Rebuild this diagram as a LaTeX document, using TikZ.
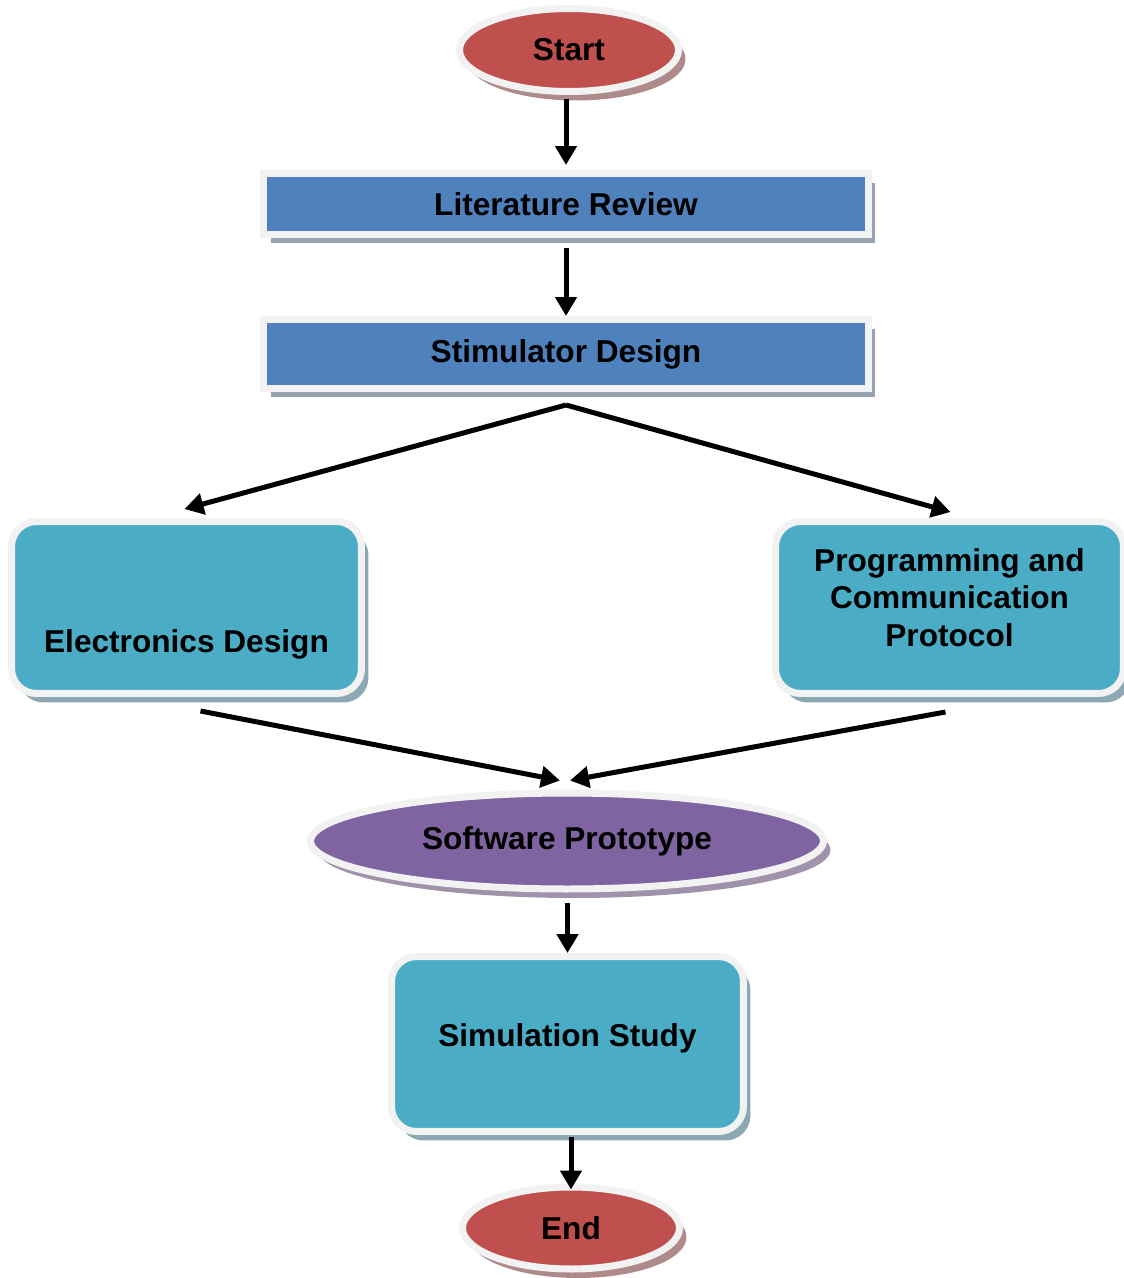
\documentclass[tikz,border=0pt]{standalone}
\usepackage{fontspec}
\setmainfont{Liberation Sans}
\usetikzlibrary{shapes.geometric,shadows,arrows.meta}

\definecolor{termred}{HTML}{C0504D}
\definecolor{redshade}{HTML}{AE8A8A}
\definecolor{stepblue}{HTML}{4F81BD}
\definecolor{blueshade}{HTML}{95A3B3}
\definecolor{taskteal}{HTML}{4BACC6}
\definecolor{tealshade}{HTML}{8CA8B2}
\definecolor{protopurple}{HTML}{8064A2}
\definecolor{purpleshade}{HTML}{A092AA}
\definecolor{rim}{HTML}{F2F2F2}

\begin{document}
\begin{tikzpicture}[x=0.02cm,y=-0.02cm,
    flow/.style={-{Triangle[length=0.38cm,width=0.42cm]},line width=0.1cm,black}]

      \useasboundingbox (0,0) rectangle (1124,1278);
      \clip (0,0) rectangle (1124,1278);

      \begin{scope}[every node/.style={draw=rim,line width=0.14cm,inner sep=0pt,align=center,
          font=\fontsize{18}{21.3}\selectfont\bfseries},
          terminal/.style={ellipse,fill=termred,minimum width=4.38cm,minimum height=1.66cm,
            drop shadow={shadow xshift=0.14cm,shadow yshift=-0.18cm,fill=redshade,opacity=1}},
          stepbox/.style={rectangle,fill=stepblue,minimum width=12.1cm,
            drop shadow={shadow xshift=0.14cm,shadow yshift=-0.18cm,fill=blueshade,opacity=1}},
          taskbox/.style={rectangle,rounded corners=0.5cm,fill=taskteal,minimum height=3.44cm,
            drop shadow={shadow xshift=0.14cm,shadow yshift=-0.18cm,fill=tealshade,opacity=1}},
          proto/.style={ellipse,fill=protopurple,minimum width=10.26cm,minimum height=1.92cm,
            drop shadow={shadow xshift=0.14cm,shadow yshift=-0.18cm,fill=purpleshade,opacity=1}}]
        \node[terminal] (start) at (569,50) {Start};
        \node[stepbox,minimum height=1.22cm] (litrev) at (566,204) {Literature Review};
        \node[stepbox,minimum height=1.38cm] (stimdesign) at (566,354) {Stimulator Design};
        \node[taskbox,minimum width=7cm] (elecdesign) at (186.5,607.5)
          {\strut\\\strut\\\strut Electronics Design};
        \node[taskbox,minimum width=6.96cm,text depth=0.4cm] (progcomm) at (949.5,607.5)
          {Programming and\\Communication\\Protocol};
        \node[proto] (softproto) at (567,841) {Software Prototype};
        \node[taskbox,minimum width=7.04cm,minimum height=3.5cm,text depth=0.37cm] (simstudy)
          at (567.5,1044) {Simulation Study};
        \node[terminal,minimum width=4.34cm,minimum height=1.64cm] (end) at (571,1228) {End};
      \end{scope}

      \coordinate (split) at ([shift={(0,13)}]stimdesign.south);

      % arrows
      \draw[flow,shorten <=0.08cm,shorten >=0.1cm] (start.south -| litrev) -- (litrev.north);
      \draw[flow,shorten <=0.2cm] (litrev.south) -- (stimdesign.north);
      \draw[flow] (split) -- ([shift={(-2,-9)}]elecdesign.north);
      \draw[flow] (split) -- ([shift={(1,-6)}]progcomm.north);
      \draw[flow] ([shift={(14,14)}]elecdesign.south) -- ([shift={(-7,-9)}]softproto.north);
      \draw[flow] ([shift={(-4,15)}]progcomm.south) -- ([shift={(3,-9)}]softproto.north);
      \draw[flow,shorten <=0.2cm] (softproto.south -| simstudy) -- (simstudy.north);
      \draw[flow,shorten <=0.04cm,shorten >=-0.12cm] (simstudy.south -| end) -- (end.north);

    \end{tikzpicture}
\end{document}
